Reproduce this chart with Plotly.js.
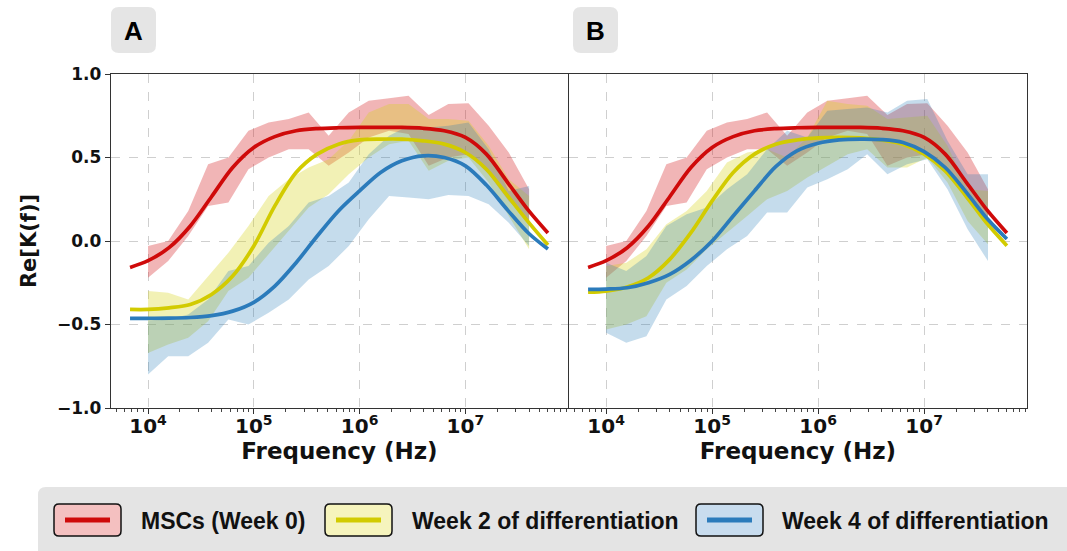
<!DOCTYPE html>
<html>
<head>
<meta charset="utf-8">
<script src="https://cdn.plot.ly/plotly-3.0.1.min.js"></script>
<style>html,body{margin:0;padding:0;background:#fff;}#chart{width:1067px;height:551px;}</style>
</head>
<body>
<div id="chart"></div>
<script>
// ---------------- DATA ----------------
const seriesNames = ["MSCs (Week 0)", "Week 2 of differentiation", "Week 4 of differentiation"];
const panelLabels = ["A", "B"];

// frequencies of fitted curves (Hz)
const fitFreq = [6.76e3, 1.0e4, 1.58e4, 2.51e4, 3.98e4, 6.31e4, 1.0e5, 1.58e5, 2.51e5, 3.98e5,
                 6.31e5, 1.0e6, 1.58e6, 2.51e6, 3.98e6, 6.31e6, 1.0e7, 1.58e7, 2.51e7, 3.98e7, 6.03e7];
// frequencies of measured bands (Hz)
const bandFreq = [1.0e4, 1.55e4, 2.4e4, 3.7e4, 5.75e4, 8.9e4, 1.38e5, 2.14e5, 3.3e5, 5.1e5,
                  7.9e5, 1.22e6, 1.9e6, 2.9e6, 4.5e6, 6.9e6, 1.07e7, 1.66e7, 2.57e7, 4.0e7];

// Fitted curves
const fitMSC   = [-0.158,-0.118,-0.04,0.09,0.265,0.44,0.56,0.625,0.66,0.673,0.678,0.68,0.68,0.68,0.675,0.66,0.62,0.52,0.35,0.18,0.048];
const fitW2_A  = [-0.41,-0.41,-0.40,-0.38,-0.32,-0.21,-0.03,0.21,0.41,0.52,0.58,0.605,0.61,0.61,0.60,0.58,0.53,0.43,0.27,0.11,-0.024];
const fitW4_A  = [-0.463,-0.463,-0.462,-0.458,-0.447,-0.42,-0.367,-0.27,-0.13,0.03,0.18,0.30,0.41,0.48,0.51,0.50,0.45,0.335,0.185,0.045,-0.048];
const fitW2_B  = [-0.307,-0.30,-0.275,-0.22,-0.11,0.05,0.24,0.41,0.52,0.58,0.605,0.617,0.62,0.617,0.605,0.58,0.52,0.42,0.265,0.10,-0.028];
const fitW4_B  = [-0.29,-0.288,-0.28,-0.25,-0.20,-0.115,0.0,0.15,0.30,0.445,0.54,0.585,0.605,0.61,0.607,0.59,0.535,0.44,0.29,0.13,0.012];

// Measured bands (upper / lower)
const mscUpper  = [-0.03,0.00,0.18,0.46,0.50,0.66,0.71,0.73,0.77,0.63,0.77,0.84,0.855,0.87,0.755,0.82,0.825,0.69,0.53,0.31];
const mscLower  = [-0.22,-0.12,0.03,0.21,0.23,0.43,0.50,0.55,0.55,0.45,0.53,0.62,0.66,0.64,0.45,0.50,0.52,0.40,0.24,0.12];
const w2UpperA  = [-0.30,-0.31,-0.35,-0.21,-0.07,0.09,0.27,0.37,0.44,0.49,0.60,0.77,0.82,0.82,0.73,0.73,0.72,0.57,0.37,0.27];
const w2LowerA  = [-0.67,-0.62,-0.58,-0.48,-0.30,-0.22,-0.08,0.06,0.20,0.28,0.40,0.50,0.58,0.60,0.42,0.48,0.50,0.35,0.15,-0.05];
const w4UpperA  = [-0.48,-0.47,-0.44,-0.35,-0.18,-0.15,-0.01,0.09,0.23,0.27,0.35,0.52,0.63,0.69,0.68,0.69,0.71,0.55,0.30,0.33];
const w4LowerA  = [-0.80,-0.69,-0.69,-0.61,-0.47,-0.50,-0.43,-0.35,-0.23,-0.15,-0.03,0.13,0.27,0.26,0.25,0.275,0.27,0.22,0.11,-0.03];
const w2UpperB  = [-0.15,-0.13,-0.05,0.10,0.18,0.30,0.47,0.53,0.55,0.50,0.62,0.84,0.82,0.81,0.73,0.74,0.75,0.57,0.31,0.30];
const w2LowerB  = [-0.53,-0.50,-0.45,-0.25,-0.17,-0.05,0.05,0.15,0.25,0.30,0.38,0.45,0.52,0.55,0.44,0.44,0.50,0.35,0.12,-0.02];
const w4UpperB  = [-0.13,-0.18,-0.09,0.09,0.16,0.20,0.31,0.40,0.55,0.66,0.62,0.78,0.79,0.80,0.77,0.84,0.85,0.60,0.40,0.40];
const w4LowerB  = [-0.55,-0.61,-0.57,-0.35,-0.27,-0.15,-0.05,0.03,0.17,0.17,0.32,0.37,0.43,0.52,0.40,0.46,0.49,0.31,0.07,-0.12];

// ---------------- STYLE ----------------
const lineColors = ["#cf0a0a", "#d2cb00", "#2b7bbb"];
const fillColors = ["rgba(214,39,40,0.34)", "rgba(215,210,25,0.32)", "rgba(31,119,180,0.26)"];
const legendPatch = ["#f4c0c0", "#f6f4bd", "#c8dcee"];
const W = 1067, H = 551;

function band(upper, lower, idx, xa, ya) {
  return {
    x: bandFreq.concat(bandFreq.slice().reverse()),
    y: upper.concat(lower.slice().reverse()),
    xaxis: xa, yaxis: ya, type: "scatter", mode: "lines",
    fill: "toself", fillcolor: fillColors[idx],
    line: {width: 0, color: fillColors[idx]},
    hoverinfo: "skip", showlegend: false
  };
}
function fit(vals, idx, xa, ya) {
  return {
    x: fitFreq, y: vals, xaxis: xa, yaxis: ya, type: "scatter", mode: "lines",
    line: {color: lineColors[idx], width: 3.7, shape: "spline", smoothing: 0.9},
    name: seriesNames[idx], showlegend: false
  };
}

const traces = [
  band(mscUpper, mscLower, 0, "x", "y"),
  band(w2UpperA, w2LowerA, 1, "x", "y"),
  band(w4UpperA, w4LowerA, 2, "x", "y"),
  band(mscUpper, mscLower, 0, "x2", "y2"),
  band(w2UpperB, w2LowerB, 1, "x2", "y2"),
  band(w4UpperB, w4LowerB, 2, "x2", "y2"),
  fit(fitMSC, 0, "x", "y"),
  fit(fitW2_A, 1, "x", "y"),
  fit(fitW4_A, 2, "x", "y"),
  fit(fitMSC, 0, "x2", "y2"),
  fit(fitW2_B, 1, "x2", "y2"),
  fit(fitW4_B, 2, "x2", "y2")
];

const tickFont = {family: "DejaVu Sans", size: 16, color: "#111", weight: "bold"};
const titleFont = {family: "DejaVu Sans", size: 23, color: "#111", weight: "bold"};

function xax(domain, anchor) {
  return {
    type: "log", range: [3.65, 7.97], domain: domain, anchor: anchor,
    dtick: 1, exponentformat: "power", showexponent: "all",
    ticks: "outside", ticklen: 5, tickwidth: 1, tickcolor: "#333",
    tickfont: tickFont, ticklabelstandoff: -4,
    minor: {dtick: "D1", ticks: "outside", ticklen: 3, tickcolor: "#444", showgrid: false},
    showgrid: true, gridcolor: "#cfcfcf", griddash: "dash", gridwidth: 1,
    showline: true, mirror: true, linecolor: "#333", linewidth: 1.2,
    zeroline: false,
    title: {text: "Frequency (Hz)", font: titleFont, standoff: 0},
    automargin: false
  };
}
function yax(domain, anchor, labels) {
  const o = {
    range: [-1, 1], domain: domain, anchor: anchor,
    tick0: -1, dtick: 0.5, tickformat: ".1f",
    ticks: labels ? "outside" : "", ticklen: 5, tickcolor: "#333",
    showticklabels: labels, tickfont: {family: "DejaVu Sans", size: 17, color: "#111", weight: "bold"},
    showgrid: true, gridcolor: "#cfcfcf", griddash: "dash", gridwidth: 1,
    showline: true, mirror: true, linecolor: "#333", linewidth: 1.2,
    zeroline: false, automargin: false
  };
  if (labels) o.title = {text: "Re[K(f)]", font: {family: "DejaVu Sans", size: 21, color: "#111", weight: "bold"}, standoff: 14};
  return o;
}

const yDom = [(H - 408) / H, (H - 74) / H];

// helpers for decoration (pixel -> paper)
function px(x) { return x / W; }
function py(y) { return 1 - y / H; }
function rrect(x0, y0, x1, y1, r) {
  const X = px, Y = py;
  return `M ${X(x0 + r)},${Y(y0)} L ${X(x1 - r)},${Y(y0)} Q ${X(x1)},${Y(y0)} ${X(x1)},${Y(y0 + r)} ` +
         `L ${X(x1)},${Y(y1 - r)} Q ${X(x1)},${Y(y1)} ${X(x1 - r)},${Y(y1)} ` +
         `L ${X(x0 + r)},${Y(y1)} Q ${X(x0)},${Y(y1)} ${X(x0)},${Y(y1 - r)} ` +
         `L ${X(x0)},${Y(y0 + r)} Q ${X(x0)},${Y(y0)} ${X(x0 + r)},${Y(y0)} Z`;
}

const shapes = [];
const annotations = [];

// panel label boxes
const labelX = [111, 573];
panelLabels.forEach((lab, i) => {
  shapes.push({type: "path", xref: "paper", yref: "paper", path: rrect(labelX[i], 7, labelX[i] + 45, 53, 8),
               fillcolor: "#e5e5e5", line: {width: 0}, layer: "below"});
  annotations.push({xref: "paper", yref: "paper", x: px(labelX[i] + 22.5), y: py(31), text: lab, showarrow: false,
                    xanchor: "center", yanchor: "middle",
                    font: {family: "Liberation Sans", size: 26, color: "#000", weight: "bold"}});
});

// legend box
shapes.push({type: "path", xref: "paper", yref: "paper", path: rrect(38, 487, 1080, 560, 8),
             fillcolor: "#e4e4e4", line: {width: 0}, layer: "below"});
const patchX = [54, 325, 696];
const textX = [139, 410, 780];
seriesNames.forEach((nm, i) => {
  const x0 = patchX[i];
  shapes.push({type: "path", xref: "paper", yref: "paper", path: rrect(x0, 504, x0 + 67, 536, 5),
               fillcolor: legendPatch[i], line: {width: 1.5, color: "#111"}});
  shapes.push({type: "line", xref: "paper", yref: "paper", x0: px(x0 + 11), x1: px(x0 + 56), y0: py(520), y1: py(520),
               line: {width: 5, color: lineColors[i]}});
  annotations.push({xref: "paper", yref: "paper", x: px(textX[i]), y: py(521), text: nm, showarrow: false,
                    xanchor: "left", yanchor: "middle",
                    font: {family: "Liberation Sans", size: 23, color: "#111", weight: "bold"}});
});

const layout = {
  width: W, height: H,
  margin: {l: 0, r: 0, t: 0, b: 0},
  paper_bgcolor: "#fff", plot_bgcolor: "#fff",
  showlegend: false,
  xaxis: xax([111 / W, 568 / W], "y"),
  yaxis: yax(yDom, "x", true),
  xaxis2: xax([569 / W, 1027 / W], "y2"),
  yaxis2: yax(yDom, "x2", false),
  shapes: shapes,
  annotations: annotations
};

Plotly.newPlot("chart", traces, layout, {staticPlot: true, displayModeBar: false});
</script>
</body>
</html>
